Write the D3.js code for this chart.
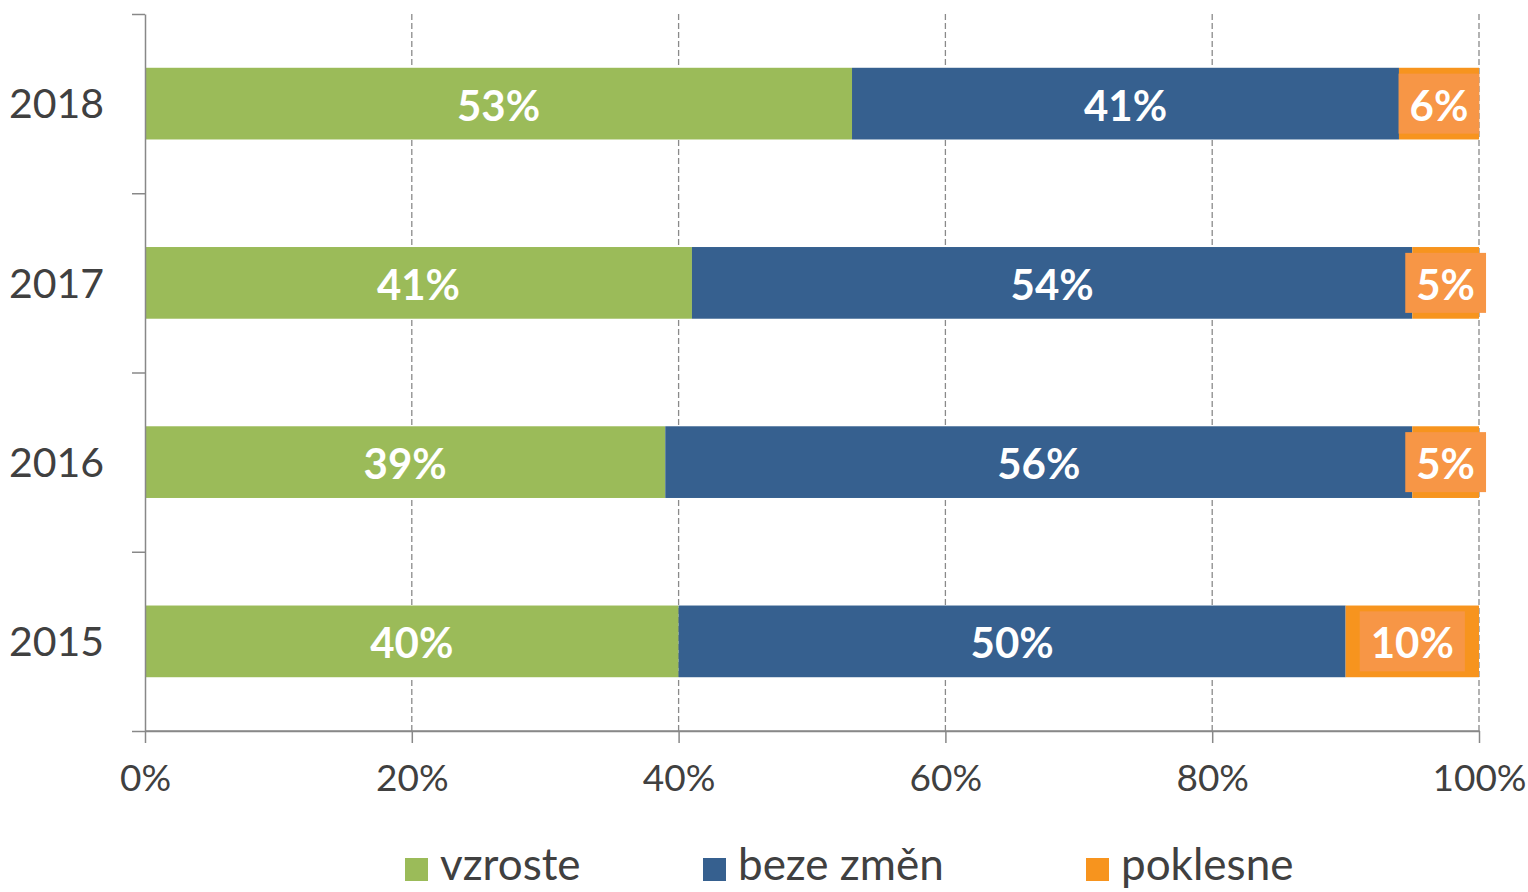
<!DOCTYPE html>
<html>
<head>
<meta charset="utf-8">
<script src="https://cdn.jsdelivr.net/npm/d3@7"></script>
<style>
  body { margin: 0; background: #fff; }
  svg { display: block; font-family: "Century Gothic", Lato, "DejaVu Sans", sans-serif; }
</style>
</head>
<body>
<div id="chart"></div>
<script>
// Data
const years = ["2018", "2017", "2016", "2015"];
const vzroste = [53, 41, 39, 40];
const bezeZmen = [41, 54, 56, 50];
const poklesne = [6, 5, 5, 10];
const seriesNames = ["vzroste", "beze změn", "poklesne"];
const seriesColors = ["#9BBB59", "#36608F", "#F7941E"];
const xTicks = [0, 20, 40, 60, 80, 100];

const W = 1528, H = 892;
const plotLeft = 145, plotRight = 1479, plotTop = 14, plotBottom = 731;

const svg = d3.select("#chart").append("svg")
    .attr("width", W)
    .attr("height", H);

// Scales
const x = d3.scaleLinear().domain([0, 100]).range([plotLeft, plotRight]);
const y = d3.scaleBand().domain(years).range([plotTop, plotBottom])
    .paddingInner(0.6).paddingOuter(0.3);
const yEdge = d3.scaleLinear().domain([0, years.length]).range([plotTop, plotBottom]);

// Stacked rows
const rows = years.map((yr, i) => ({ year: yr, vzroste: vzroste[i], "beze změn": bezeZmen[i], poklesne: poklesne[i] }));
const stack = d3.stack().keys(seriesNames)(rows);

// Dashed gridlines
svg.append("g")
    .selectAll("line")
    .data(xTicks.filter(d => d > 0))
    .enter()
    .append("line")
    .attr("x1", d => x(d)).attr("x2", d => x(d))
    .attr("y1", plotTop).attr("y2", plotBottom)
    .attr("stroke", "#8a8a8a")
    .attr("stroke-width", 1.3)
    .attr("stroke-dasharray", "6,3");

// Bars
const layers = svg.append("g")
    .selectAll("g")
    .data(stack)
    .enter()
    .append("g")
    .attr("fill", (d, i) => seriesColors[i]);

layers.selectAll("rect")
    .data(d => d)
    .enter()
    .append("rect")
    .attr("x", d => x(d[0]))
    .attr("width", d => x(d[1]) - x(d[0]))
    .attr("y", d => y(d.data.year))
    .attr("height", y.bandwidth());

// Value labels
stack.forEach((layer, si) => {
    layer.forEach(d => {
        const cx = (x(d[0]) + x(d[1])) / 2;
        const cy = y(d.data.year) + y.bandwidth() / 2;
        const g = svg.append("g");
        const t = g.append("text")
            .attr("x", cx)
            .attr("y", cy + 2)
            .attr("dy", "0.36em")
            .attr("text-anchor", "middle")
            .attr("fill", "#fff")
            .attr("font-weight", "bold")
            .attr("font-size", 42)
            .text((d[1] - d[0]) + "%");
        if (si === 2) {
            // light orange box behind the small labels
            const b = t.node().getBBox();
            g.insert("rect", "text")
                .attr("x", b.x - 11)
                .attr("y", cy - 30)
                .attr("width", b.width + 22)
                .attr("height", 60)
                .attr("fill", "#F79646");
        }
    });
});

// Y axis: ticks on category boundaries
const yAxisG = svg.append("g")
    .attr("transform", `translate(${plotLeft},0)`)
    .call(d3.axisLeft(yEdge).ticks(years.length).tickFormat("").tickSize(13).tickSizeOuter(0));
yAxisG.select(".domain").attr("stroke", "#888").attr("stroke-width", 1.5);
yAxisG.selectAll(".tick line").attr("stroke", "#888").attr("stroke-width", 1.5);

// Year labels
const yLab = svg.append("g")
    .attr("transform", `translate(${plotLeft - 41},0)`)
    .call(d3.axisLeft(y).tickSize(0).tickPadding(0));
yLab.attr("font-family", null);
yLab.select(".domain").remove();
yLab.selectAll("text")
    .attr("font-size", 41)
    .attr("fill", "#404040")
    .attr("dy", "0.36em");

// X axis
const xAxisG = svg.append("g")
    .attr("transform", `translate(0,${plotBottom})`)
    .call(d3.axisBottom(x).tickValues(xTicks).tickFormat(d => d + "%").tickSize(12).tickSizeOuter(0).tickPadding(22));
xAxisG.attr("font-family", null);
xAxisG.select(".domain").attr("stroke", "#888").attr("stroke-width", 1.5);
xAxisG.selectAll(".tick line").attr("stroke", "#888").attr("stroke-width", 1.5);
xAxisG.selectAll("text")
    .attr("font-size", 37)
    .attr("fill", "#404040");
// extend the bottom line to the plot edge
svg.append("line")
    .attr("x1", plotLeft).attr("x2", plotRight + 0.5)
    .attr("y1", plotBottom).attr("y2", plotBottom)
    .attr("stroke", "#888").attr("stroke-width", 1.5);

// Legend
const legendX = [405, 703, 1086];
const legend = svg.append("g");
seriesNames.forEach((name, i) => {
    legend.append("rect")
        .attr("x", legendX[i]).attr("y", 858)
        .attr("width", 23).attr("height", 23)
        .attr("fill", seriesColors[i]);
    legend.append("text")
        .attr("x", legendX[i] + 35)
        .attr("y", 880)
        .attr("font-size", 44)
        .attr("fill", "#404040")
        .text(name);
});
</script>
</body>
</html>
